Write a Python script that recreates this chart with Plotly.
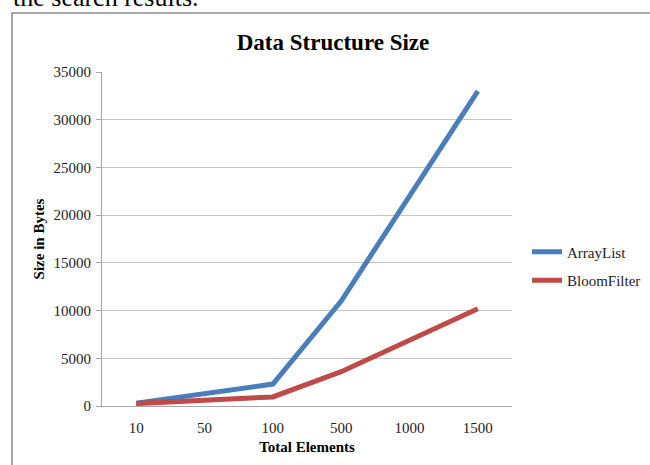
import plotly.graph_objects as go

categories = ["10", "50", "100", "500", "1000", "1500"]
arraylist = [300, 1250, 2300, 11000, 22000, 33000]
bloomfilter = [250, 600, 950, 3600, 6900, 10200]
y_ticks = [0, 5000, 10000, 15000, 20000, 25000, 30000, 35000]
y_tick_labels = [str(v) for v in y_ticks]

SERIF = "Liberation Serif, Times New Roman, serif"
W, H = 650, 465
L, R, T, B = 102, 512, 72, 406

def px(x):
    return (x - L) / (R - L)

def py(y):
    return (B - y) / (B - T)

fig = go.Figure()
fig.add_trace(go.Scatter(x=categories, y=arraylist, mode="lines", name="ArrayList",
                         legendgroup="a",
                         line=dict(color="#4a7ebb", width=5)))
fig.add_trace(go.Scatter(x=categories, y=bloomfilter, mode="lines", name="BloomFilter",
                         legendgroup="b",
                         line=dict(color="#be4b48", width=5)))

fig.update_layout(
    width=W, height=H,
    margin=dict(l=L, r=W - R, t=T, b=H - B, autoexpand=False),
    paper_bgcolor="white", plot_bgcolor="white",
    font=dict(family=SERIF, size=15, color="#222"),
    title=dict(text="<b>Data Structure Size</b>", x=px(333), xref="paper", xanchor="center",
               y=1 - 42 / H, yanchor="middle", font=dict(size=23, color="#000")),
    showlegend=True,
    legend=dict(x=px(527), y=py(266), xanchor="left", yanchor="middle",
                traceorder="grouped", tracegroupgap=6,
                font=dict(size=15, color="#222"), bgcolor="rgba(0,0,0,0)"),
    xaxis=dict(type="category", range=[-0.5, 5.5], showgrid=False,
               showline=True, linecolor="#a6a6a6", linewidth=1,
               ticks="outside", ticklen=8, tickcolor="rgba(0,0,0,0)",
               title=dict(text="<b>Total Elements</b>", font=dict(size=15, color="#000"), standoff=6)),
    yaxis=dict(range=[0, 35000], tickvals=y_ticks, ticktext=y_tick_labels,
               showgrid=True, gridcolor="#c4c4c4", gridwidth=1,
               zeroline=False, showline=True, linecolor="#a6a6a6", linewidth=1,
               ticks="outside", ticklen=5, tickcolor="#a6a6a6", ticklabelstandoff=2,
               title=dict(text="<b>Size in Bytes</b>", font=dict(size=15, color="#000"), standoff=5)),
)

# outer chart border
fig.add_shape(type="rect", xref="paper", yref="paper",
              x0=px(12), x1=px(662), y0=py(480), y1=py(13),
              line=dict(color="#8c8c8c", width=1.5), fillcolor="rgba(0,0,0,0)", layer="below")

# cut-off document text above chart
fig.add_annotation(text="the search results.", xref="paper", yref="paper",
                   x=px(11), y=py(14), xanchor="left", yanchor="bottom", showarrow=False,
                   font=dict(family=SERIF, size=26, color="#000"))

fig.write_html("out.html", config={"displayModeBar": False},
               post_script="document.body.style.margin='0';")
